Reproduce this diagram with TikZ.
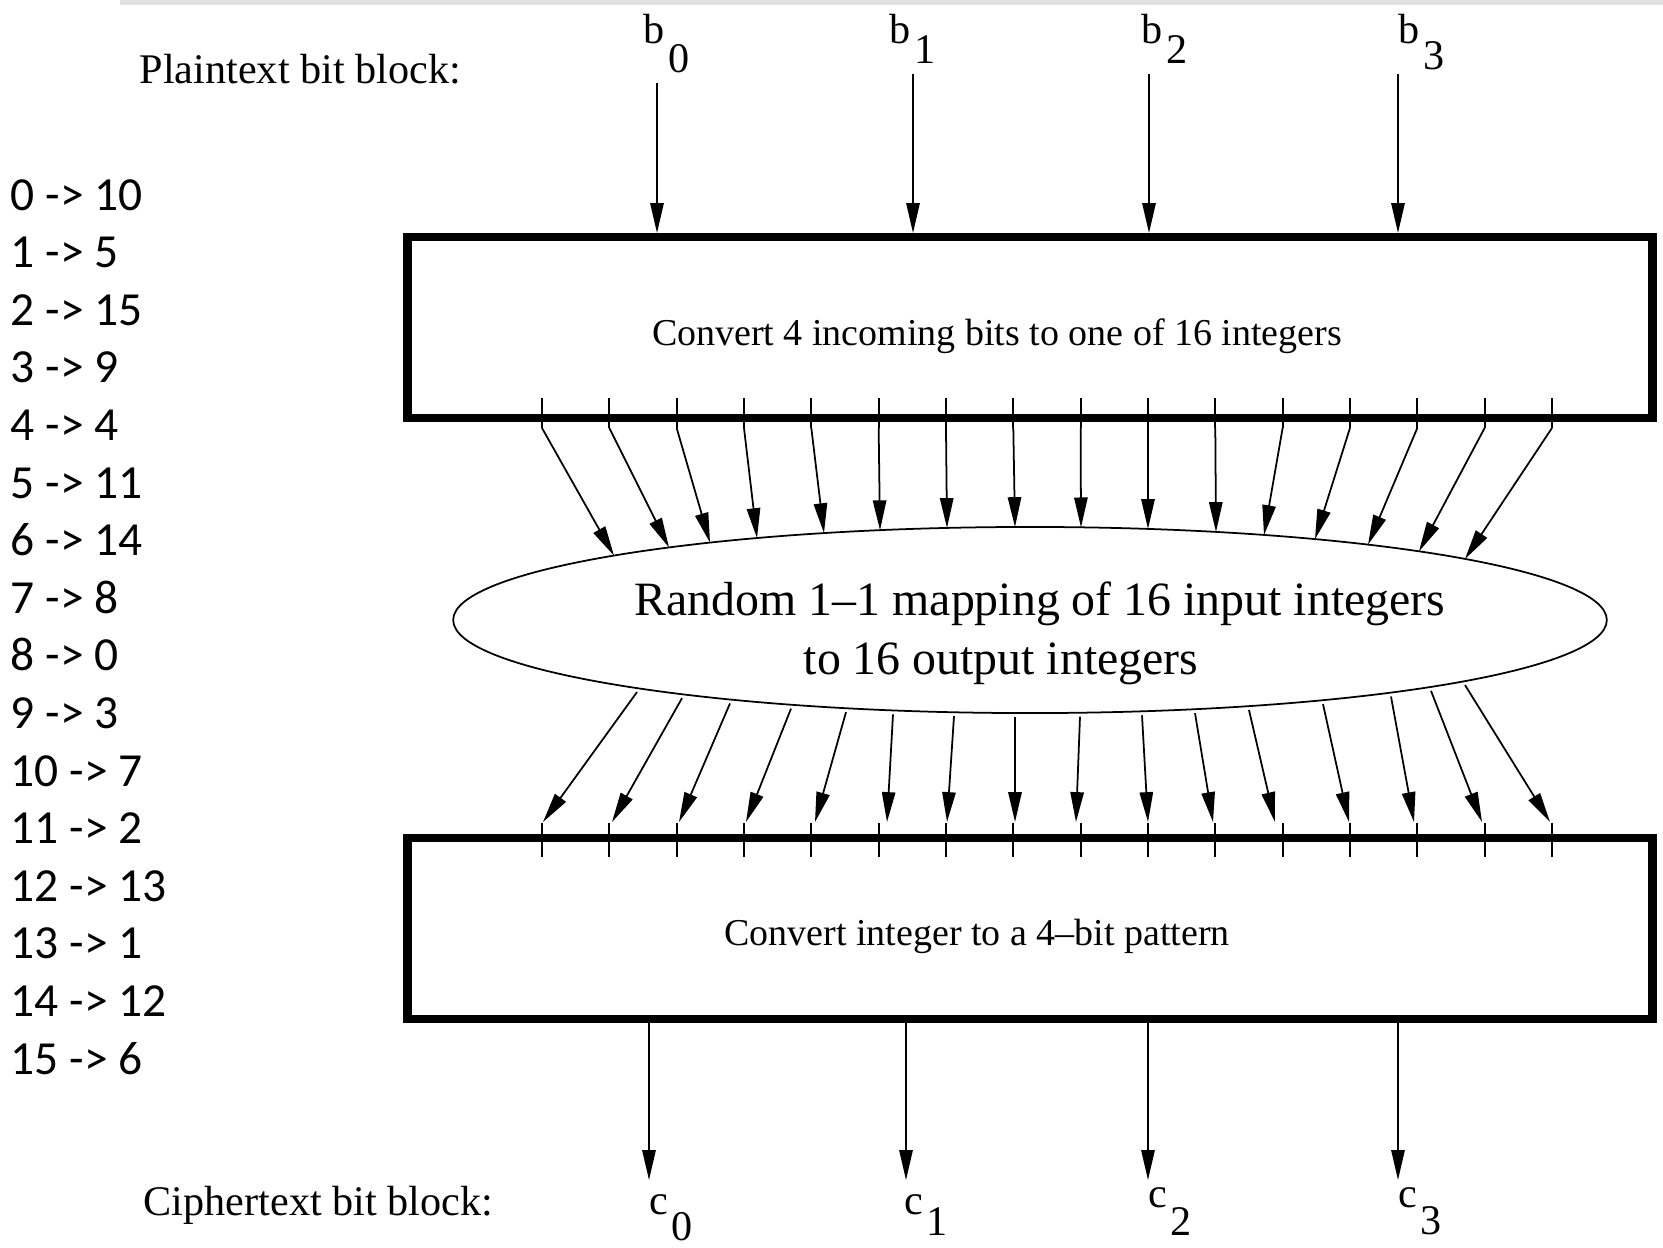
\documentclass[tikz,border=0pt]{standalone}
\usepackage{fontspec}
\setmainfont{Liberation Serif}
\newfontfamily\calfont{Carlito}
\usetikzlibrary{arrows.meta,shapes.geometric}

\newcommand{\sublbl}[3]{#1\kern1pt\raisebox{-#3}{#2}}

\begin{document}
\begin{tikzpicture}[x=0.01cm,y=-0.01cm,
    box/.style={draw,line width=2.4pt,minimum width=12.44cm,minimum height=1.807cm,inner sep=0pt},
    pin/.style={line width=0.5pt,-{Triangle[length=8.5pt,width=3.8pt]}},
    tick/.style={line width=0.5pt},
    bit/.style={font=\fontsize{12}{14}\selectfont,inner sep=0pt,anchor=base west},
    boxtext/.style={font=\fontsize{10.8}{13}\selectfont,inner sep=0pt,anchor=base},
    maptext/.style={font=\fontsize{13.6}{16}\selectfont,inner sep=0pt,anchor=base},
    pair/.style={font=\calfont\fontsize{13.5}{16}\selectfont,inner sep=0pt,anchor=base west}]

    \useasboundingbox (0,0) rectangle (1663,1247);
    \fill[black!12] (120,0) rectangle (1663,5);

    % substitution table
    \foreach \src/\dst [count=\i from 0] in {0/10,1/5,2/15,3/9,4/4,5/11,6/14,7/8,8/0,9/3,10/7,11/2,12/13,13/1,14/12,15/6}
      \node[pair] (pair\i) at (10,210+57.6*\i) {\src{} -> \dst};

    \node[bit] (plain) at (139,83) {Plaintext bit block:};
    \node[bit] (b0) at (643,43) {\sublbl{b}{0}{8.5pt}};
    \node[bit] (b1) at (889,43) {\sublbl{b}{1}{5.7pt}};
    \node[bit] (b2) at (1141,43) {\sublbl{b}{2}{5.7pt}};
    \node[bit] (b3) at (1398,43) {\sublbl{b}{3}{7.6pt}};

    \node[box] (inbox) at (1030,327.6) {};
    \node[boxtext] (intext) at (997,345) {Convert 4 incoming bits to one of 16 integers};

    \node[draw,ellipse,line width=0.5pt,minimum width=11.53cm,minimum height=1.86cm,inner sep=0pt] (map) at (1030,620) {};
    \node[maptext] (maptop) at (1040,615) {Random 1--1 mapping of 16 input integers};
    \node[maptext] (mapbot) at (1001,674) {to 16 output integers};

    \node[box] (outbox) at (1030,928.5) {};
    \node[boxtext] (outtext) at (977,945) {Convert integer to a 4--bit pattern};

    \node[bit] (cipher) at (143,1215) {Ciphertext bit block:};
    \node[bit] (c0) at (649,1214) {\sublbl{c}{0}{7.4pt}};
    \node[bit] (c1) at (904,1214) {\sublbl{c}{1}{6.2pt}};
    \node[bit] (c2) at (1148,1207) {\sublbl{c}{2}{8pt}};
    \node[bit] (c3) at (1398,1207) {\sublbl{c}{3}{7.7pt}};

    % incoming and outgoing bits
    \foreach \n/\px/\py in {0/657/83,1/913/74,2/1149/74,3/1398/74} {
      \coordinate (bs\n) at (\px,\py);
      \draw[pin] (bs\n) -- (bs\n |- inbox.north);
    }
    \foreach \n/\px in {0/649,1/906,2/1148,3/1398} {
      \coordinate (ce\n) at (\px,1180);
      \draw[pin] (ce\n |- outbox.south) -- (ce\n);
    }

    % 16 lines on each box
    \foreach \i in {0,...,15} {
      \coordinate (ut\i) at (542+67.33*\i,428);
      \coordinate (lt\i) at (542+67.33*\i,823);
      \draw[tick] (ut\i) -- ++(0,-30);
      \draw[tick] (lt\i) -- ++(0,34);
    }

    % into the mapping (points on the top of the ellipse)
    \foreach \tx [count=\i from 0] in {614,669,710,757,824,880,947,1015,1081,1148,1216,1264,1315,1368,1419,1465} {
      \pgfmathsetmacro\ux{(\tx-1030)/576.5}
      \coordinate (mi\i) at (\tx,{620-93*sqrt(1-(\ux)*(\ux))});
      \draw[pin] (ut\i) -- (mi\i);
    }

    % out of the mapping (just under the ellipse)
    \foreach \sx/\ex [count=\i from 0] in {637/543,682/612,730/679,791/746,846/815,893/887,954/947,1015/1015,1080/1076,1142/1148,1195/1213,1249/1275,1323/1349,1391/1414,1431/1482,1465/1550} {
      \pgfmathsetmacro\ux{(\sx-1030)/576.5}
      \coordinate (mo\i) at (\sx,{624+93*sqrt(1-(\ux)*(\ux))});
      \coordinate (le\i) at (\ex,822);
      \draw[pin] (mo\i) -- (le\i);
    }
\end{tikzpicture}
\end{document}
